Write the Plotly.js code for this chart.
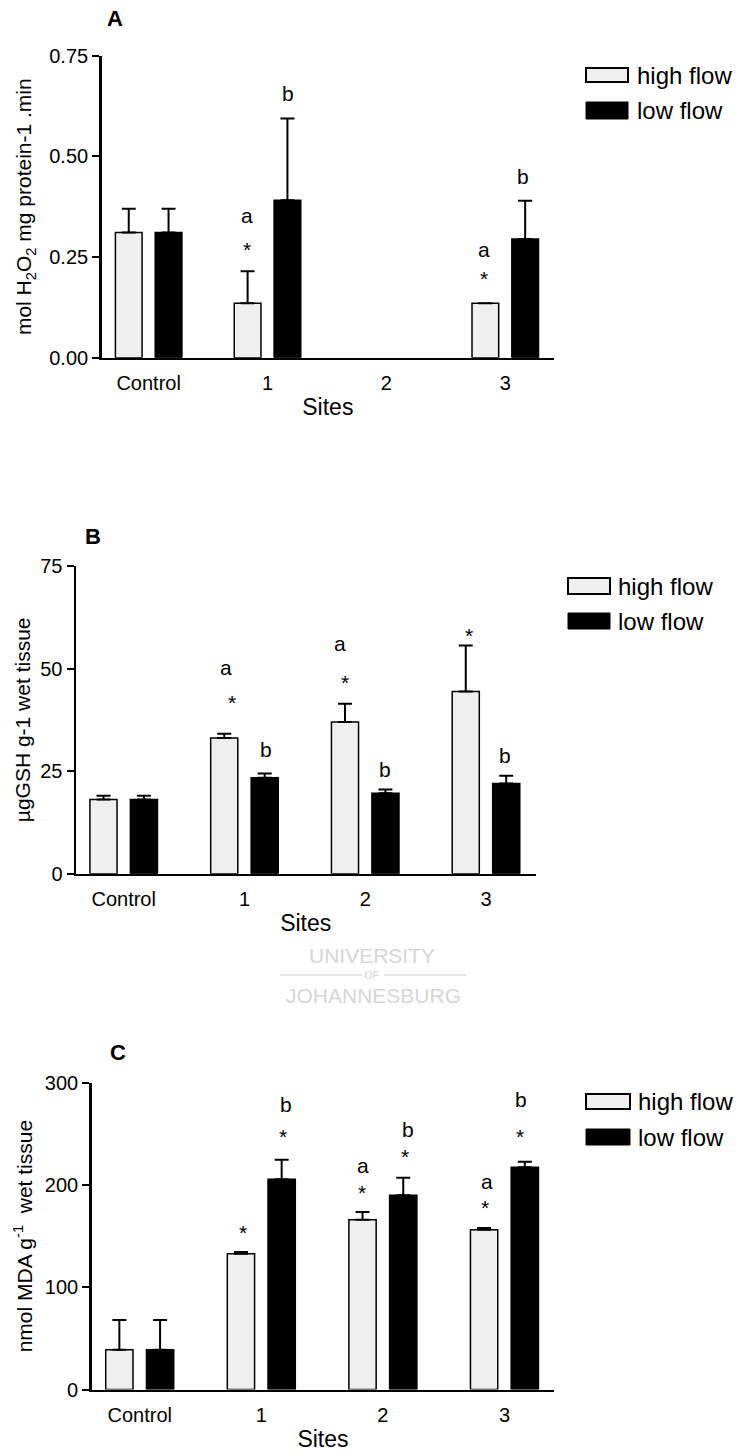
<!DOCTYPE html>
<html>
<head>
<meta charset="utf-8">
<script src="https://cdn.plot.ly/plotly-3.0.1.min.js"></script>
<style>
  html, body { margin: 0; padding: 0; background: #ffffff; }
  #chart { width: 738px; height: 1453px; }
</style>
</head>
<body>
<div id="chart"></div>
<script>
// ---------- data ----------
const categories = ["Control", "1", "2", "3"];
const seriesNames = ["high flow", "low flow"];

// Panel A: mol H2O2 mg protein-1 .min
const highA    = [0.311, 0.135, null, 0.135];
const highAErr = [0.059, 0.080, null, 0.000];
const lowA     = [0.311, 0.391, null, 0.295];
const lowAErr  = [0.059, 0.203, null, 0.095];

// Panel B: µgGSH g-1 wet tissue
const highB    = [18.1, 33.1, 37.0, 44.4];
const highBErr = [0.9, 1.0, 4.4, 11.2];
const lowB     = [18.1, 23.4, 19.6, 22.0];
const lowBErr  = [0.9, 1.0, 0.9, 1.9];

// Panel C: nmol MDA g-1 wet tissue
const highC    = [38.9, 132.8, 166.0, 156.3];
const highCErr = [29.0, 1.6, 7.6, 1.6];
const lowC     = [38.9, 205.5, 189.9, 217.3];
const lowCErr  = [29.0, 19.2, 17.2, 5.4];

const tickA = [0, 0.25, 0.5, 0.75];
const tickALabels = ["0.00", "0.25", "0.50", "0.75"];
const tickB = [0, 25, 50, 75];
const tickC = [0, 100, 200, 300];

// significance marks: [x (category units), y (data units), text]
const marksA = [[0.83, 0.354, "a"], [0.83, 0.281, "*"], [1.17, 0.656, "b"],
                [2.82, 0.269, "a"], [2.82, 0.208, "*"], [3.15, 0.451, "b"]];
const marksB = [[0.85, 50.2, "a"], [0.90, 43.0, "*"], [1.18, 30.3, "b"],
                [1.79, 56.2, "a"], [1.83, 47.8, "*"], [2.16, 25.4, "b"],
                [2.86, 59.4, "*"], [3.16, 28.9, "b"]];
const marksC = [[0.85, 158.2, "*"], [1.20, 278.9, "b"], [1.18, 252.1, "*"],
                [1.84, 218.8, "a"], [1.83, 197.7, "*"], [2.21, 254.7, "b"], [2.18, 232.5, "*"],
                [2.86, 203.2, "a"], [2.84, 183.0, "*"], [3.14, 284.0, "b"], [3.13, 252.1, "*"]];

// ---------- layout helpers ----------
const W = 738, H = 1453;
const FONT = "Liberation Sans, Arial, Helvetica, sans-serif";
const px = v => v / W;
const py = v => 1 - v / H;
const HIGH_FILL = "#efefef";
const LOW_FILL = "#000000";

function bars(y, err, fill, name, xa, ya) {
  return {
    type: "bar", x: categories, y: y, name: name, xaxis: xa, yaxis: ya,
    showlegend: false,
    marker: { color: fill, line: { color: "#000", width: 1.5 } },
    error_y: { type: "data", array: err, arrayminus: err.map(() => 0), symmetric: false,
               visible: true, color: "#000", thickness: 2, width: 7 },
    hoverinfo: "x+y"
  };
}

const data = [
  bars(highA, highAErr, HIGH_FILL, seriesNames[0], "x", "y"),
  bars(lowA, lowAErr, LOW_FILL, seriesNames[1], "x", "y"),
  bars(highB, highBErr, HIGH_FILL, seriesNames[0], "x2", "y2"),
  bars(lowB, lowBErr, LOW_FILL, seriesNames[1], "x2", "y2"),
  bars(highC, highCErr, HIGH_FILL, seriesNames[0], "x3", "y3"),
  bars(lowC, lowCErr, LOW_FILL, seriesNames[1], "x3", "y3")
];

const XRANGE = [-0.395, 3.41];
function xAxis(x0, x1, anchor) {
  return {
    domain: [px(x0), px(x1)], anchor: anchor, type: "category", range: XRANGE,
    showline: true, linecolor: "#000", linewidth: 2.5, ticks: "", showgrid: false,
    zeroline: false, fixedrange: true, ticklabelstandoff: 6,
    tickfont: { family: FONT, size: 20, color: "#000" },
    title: { text: "Sites", font: { family: FONT, size: 23, color: "#000" }, standoff: 6 }
  };
}
function yAxis(y0, y1, anchor, range, tv, tt, title, standoff) {
  const ax = {
    domain: [py(y1), py(y0)], anchor: anchor, range: range,
    showline: true, linecolor: "#000", linewidth: 2.5, ticks: "outside", ticklen: 7,
    tickwidth: 2, tickcolor: "#000", showgrid: false, zeroline: false, fixedrange: true,
    tickvals: tv, tickfont: { family: FONT, size: 20, color: "#000" },
    title: { text: title, font: { family: FONT, size: 21, color: "#000" }, standoff: standoff }
  };
  if (tt) { ax.ticktext = tt; }
  return ax;
}

const annotations = [];
function addMarks(list, xr, yr) {
  list.forEach(m => {
    annotations.push({
      x: m[0], y: m[1], xref: xr, yref: yr, text: m[2], showarrow: false,
      xanchor: "center", yanchor: "middle", yshift: m[2] === "*" ? -5 : 0,
      font: { family: FONT, size: 21, color: "#000" }
    });
  });
}
addMarks(marksA, "x", "y");
addMarks(marksB, "x2", "y2");
addMarks(marksC, "x3", "y3");

// panel letters
[["A", 115, 18], ["B", 93, 536], ["C", 118, 1052]].forEach(p => {
  annotations.push({ x: px(p[1]), y: py(p[2]), xref: "paper", yref: "paper", text: "<b>" + p[0] + "</b>",
    showarrow: false, xanchor: "center", yanchor: "middle",
    font: { family: FONT, size: 22, color: "#000" } });
});

// custom legends (one per panel)
const shapes = [];
function legend(bx0, bx1, hy0, hy1, ly0, ly1, tx) {
  shapes.push({ type: "rect", xref: "paper", yref: "paper", x0: px(bx0), x1: px(bx1),
    y0: py(hy1), y1: py(hy0), fillcolor: HIGH_FILL, line: { color: "#000", width: 2 } });
  shapes.push({ type: "rect", xref: "paper", yref: "paper", x0: px(bx0), x1: px(bx1),
    y0: py(ly1), y1: py(ly0), fillcolor: LOW_FILL, line: { color: "#000", width: 1 } });
  [[seriesNames[0], (hy0 + hy1) / 2], [seriesNames[1], (ly0 + ly1) / 2]].forEach(t => {
    annotations.push({ x: px(tx), y: py(t[1]), xref: "paper", yref: "paper", text: t[0],
      showarrow: false, xanchor: "left", yanchor: "middle",
      font: { family: FONT, size: 24, color: "#000" } });
  });
}
legend(586, 628, 68, 82, 102, 119, 635);
legend(568, 610, 578, 594, 613, 629, 616);
legend(586, 630, 1094, 1109, 1129, 1145, 636);

// watermark text
[["UNIVERSITY", 372, 955, 21], ["OF", 372, 975, 11], ["JOHANNESBURG", 373, 995, 21]].forEach(w => {
  annotations.push({ x: px(w[1]), y: py(w[2]), xref: "paper", yref: "paper", text: w[0],
    showarrow: false, xanchor: "center", yanchor: "middle",
    font: { family: FONT, size: w[3], color: "#d6d6d6" } });
});
shapes.push({ type: "line", xref: "paper", yref: "paper", x0: px(280), x1: px(362), y0: py(975), y1: py(975),
  line: { color: "#dddddd", width: 1.5 } });
shapes.push({ type: "line", xref: "paper", yref: "paper", x0: px(384), x1: px(466), y0: py(975), y1: py(975),
  line: { color: "#dddddd", width: 1.5 } });

const layout = {
  width: W, height: H,
  margin: { l: 0, r: 0, t: 0, b: 0 },
  paper_bgcolor: "#ffffff", plot_bgcolor: "rgba(0,0,0,0)",
  barmode: "group", bargap: 0.33, bargroupgap: 0.33,
  showlegend: false,
  font: { family: FONT, color: "#000" },
  xaxis: xAxis(101.7, 554, "y"),
  yaxis: yAxis(55.7, 357.7, "x", [0, 0.75], tickA, tickALabels,
               "mol H<sub>2</sub>O<sub>2</sub> mg protein-1 .min", 12),
  xaxis2: xAxis(76, 535.5, "y2"),
  yaxis2: yAxis(566, 873.7, "x2", [0, 75], tickB, null, "µgGSH g-1 wet tissue", 4),
  xaxis3: xAxis(91.7, 554.3, "y3"),
  yaxis3: yAxis(1082.7, 1389.5, "x3", [0, 300], tickC, null,
                "nmol MDA g<sup>-1</sup>  wet tissue", 7),
  annotations: annotations,
  shapes: shapes
};

Plotly.newPlot("chart", data, layout, { displayModeBar: false, staticPlot: true });
</script>
</body>
</html>
